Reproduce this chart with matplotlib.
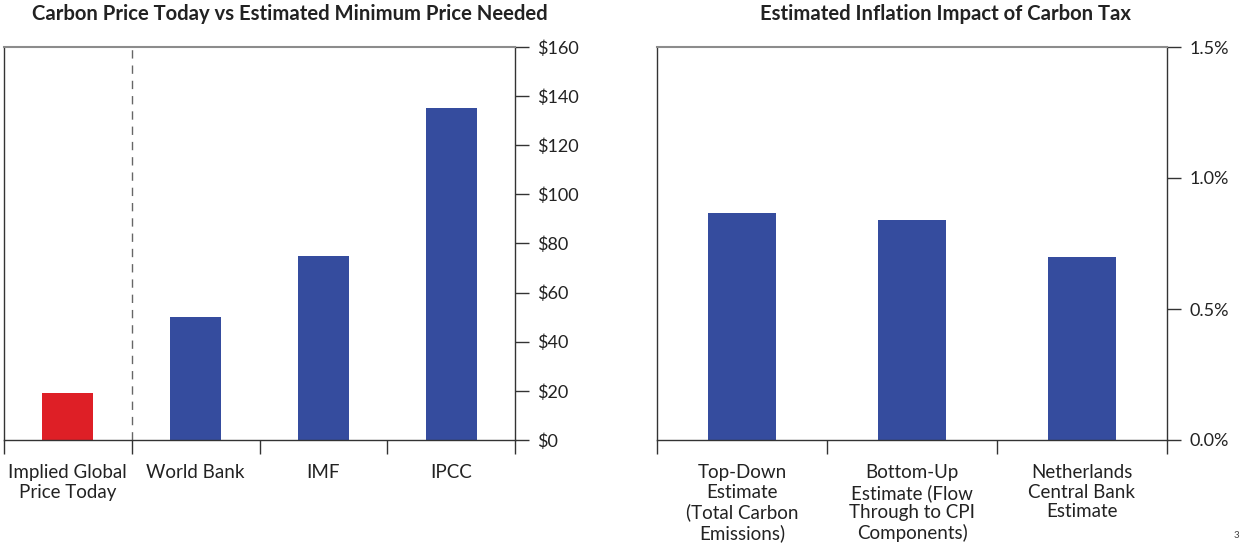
import matplotlib
matplotlib.use("Agg")
import matplotlib.pyplot as plt
from matplotlib.ticker import FuncFormatter, FixedLocator
import numpy as np

plt.rcParams['font.family'] = ['Lato', 'DejaVu Sans']

# Data
price_categories = ["Implied Global\nPrice Today", "World Bank", "IMF", "IPCC"]
price_values = [19, 50, 75, 135]
price_colors = ["#DE1F26", "#354C9E", "#354C9E", "#354C9E"]

infl_categories = ["Top-Down\nEstimate\n(Total Carbon\nEmissions)",
                   "Bottom-Up\nEstimate (Flow\nThrough to CPI\nComponents)",
                   "Netherlands\nCentral Bank\nEstimate"]
infl_values = [0.865, 0.84, 0.70]
infl_color = "#354C9E"

fig = plt.figure(figsize=(12.44, 5.44), dpi=100)
W, H = 1244, 544

def style_axes(ax, n):
    ax.set_xlim(-0.5, n - 0.5)
    ax.yaxis.tick_right()
    ax.spines['top'].set_color('#8C8C8C')
    ax.spines['top'].set_linewidth(1.5)
    for s in ['left', 'right', 'bottom']:
        ax.spines[s].set_color('#333333')
        ax.spines[s].set_linewidth(1.0)
    ax.xaxis.set_major_locator(FixedLocator(np.arange(-0.5, n, 1.0)))
    ax.xaxis.set_major_formatter(FuncFormatter(lambda v, p: ""))
    ax.xaxis.set_minor_locator(FixedLocator(np.arange(0, n, 1.0)))
    ax.tick_params(axis='x', which='major', length=10, width=1, color='#333333', direction='out')
    ax.tick_params(axis='x', which='minor', length=0, pad=17.5, labelsize=13.5, labelcolor='#222222')
    ax.tick_params(axis='y', length=10, width=1, color='#333333', direction='out', pad=6,
                   labelsize=13, labelcolor='#222222')

# Left panel
ax1 = fig.add_axes([4 / W, (H - 440) / H, (515 - 4) / W, (440 - 47) / H])
x1 = np.arange(len(price_categories))
ax1.bar(x1, price_values, width=0.4, color=price_colors)
style_axes(ax1, len(price_categories))
ax1.set_ylim(0, 160)
ax1.set_yticks(np.arange(0, 161, 20))
ax1.yaxis.set_major_formatter(FuncFormatter(lambda v, p: f"${v:.0f}"))
ax1.set_xticklabels(price_categories, minor=True, va='top', linespacing=1.18)
ax1.axvline(0.5, color='#666666', linestyle=(0, (6, 5)), linewidth=1.0)
fig.text(290 / W, 1 - 14 / H, "Carbon Price Today vs Estimated Minimum Price Needed",
         fontsize=14.6, fontweight='bold', color='#222222', ha='center', va='center')

# Right panel
ax2 = fig.add_axes([657 / W, (H - 440) / H, (1167 - 657) / W, (440 - 47) / H])
x2 = np.arange(len(infl_categories))
ax2.bar(x2, infl_values, width=0.4, color=infl_color)
style_axes(ax2, len(infl_categories))
ax2.set_ylim(0, 1.5)
ax2.set_yticks([0, 0.5, 1.0, 1.5])
ax2.yaxis.set_major_formatter(FuncFormatter(lambda v, p: f"{v:.1f}%"))
ax2.set_xticklabels(infl_categories, minor=True, va='top', linespacing=1.18)
fig.text(946 / W, 1 - 14 / H, "Estimated Inflation Impact of Carbon Tax",
         fontsize=14.6, fontweight='bold', color='#222222', ha='center', va='center')

fig.text(1236 / W, (H - 536) / H, "3", fontsize=7, color='#444444', ha='center', va='center')

fig.savefig("out.png", dpi=100)
